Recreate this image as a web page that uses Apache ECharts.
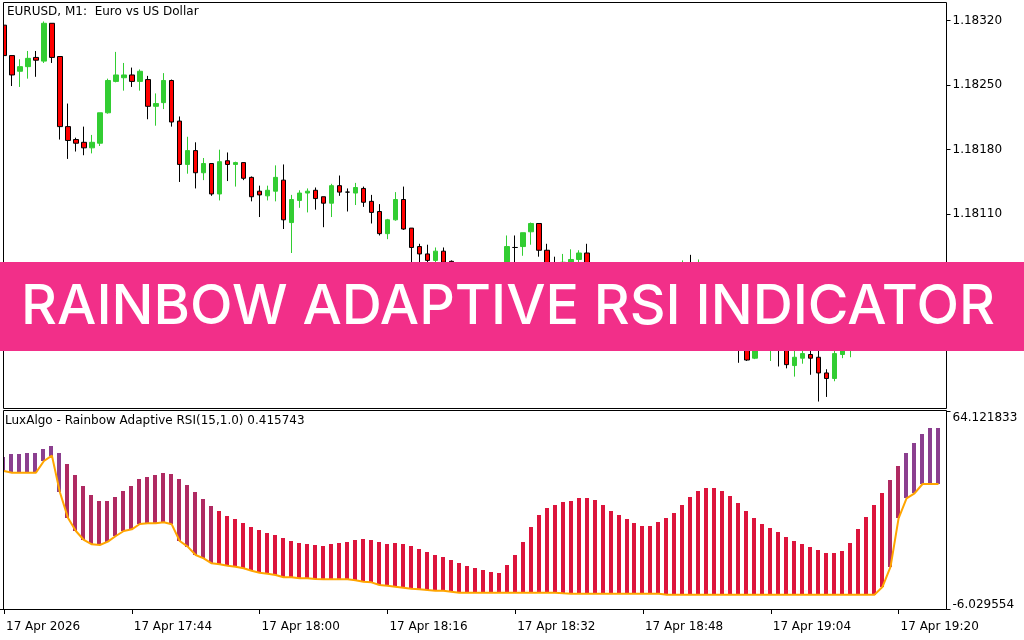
<!DOCTYPE html>
<html><head><meta charset="utf-8">
<script src="https://cdn.jsdelivr.net/npm/echarts@6/dist/echarts.min.js"></script>
<style>html,body{margin:0;padding:0;background:#fff}#c{width:1024px;height:640px}</style>
</head><body><div id="c"></div>
<script>
const symbolTitle = 'EURUSD, M1:  Euro vs US Dollar';
const indicatorTitle = 'LuxAlgo - Rainbow Adaptive RSI(15,1.0) 0.415743';
const bannerText = 'RAINBOW ADAPTIVE RSI INDICATOR';
const startHour = 17, startMinute = 28;
const timeTickLabels = ['17 Apr 2026','17 Apr 17:44','17 Apr 18:00','17 Apr 18:16','17 Apr 18:32','17 Apr 18:48','17 Apr 19:04','17 Apr 19:20'];
const priceTicks = [1.17970, 1.18040, 1.18110, 1.18180, 1.18250, 1.18320];
const rsiTicks = [-6.029554, 64.121833];

const openPrices = [
1.18315,1.18282,1.18265,1.18270,1.18280,1.18276,1.18317,1.18281,1.18205,1.18191,
1.18188,1.18182,1.18187,1.18220,1.18254,1.18258,1.18261,1.18254,1.18256,1.18227,
1.18231,1.18255,1.18211,1.18164,1.18179,1.18155,1.18165,1.18132,1.18168,1.18164,
1.18166,1.18150,1.18135,1.18130,1.18135,1.18147,1.18101,1.18125,1.18133,1.18136,
1.18129,1.18122,1.18141,1.18134,1.18133,1.18138,1.18124,1.18113,1.18089,1.18104,
1.18126,1.18095,1.18075,1.18067,1.18060,1.18070,1.18059,1.18027,1.18011,1.18022,
1.18000,1.17993,1.18006,1.18017,1.18074,1.18075,1.18091,1.18100,1.18071,1.18054,
1.18044,1.18049,1.18061,1.18068,1.18044,1.18027,1.18011,1.18019,1.18003,1.17993,
1.17984,1.17989,1.17978,1.17995,1.18011,1.18027,1.18047,1.18036,1.18051,1.18040,
1.18025,1.18011,1.17997,1.17978,1.17954,1.17973,1.17968,1.17978,1.17964,1.17946,
1.17954,1.17958,1.17955,1.17938,1.17932,1.17958,1.17973,1.17989,1.18006,1.18017,
1.18027,1.18036,1.18032,1.18043,1.18049,1.18051,1.18047,1.18051];
const highPrices = [
1.18316,1.18282,1.18278,1.18287,1.18287,1.18319,1.18317,1.18281,1.18230,1.18193,
1.18205,1.18196,1.18220,1.18257,1.18286,1.18274,1.18269,1.18267,1.18260,1.18241,
1.18263,1.18256,1.18216,1.18194,1.18188,1.18171,1.18165,1.18180,1.18177,1.18167,
1.18166,1.18151,1.18141,1.18141,1.18163,1.18164,1.18131,1.18136,1.18138,1.18139,
1.18129,1.18143,1.18152,1.18138,1.18144,1.18140,1.18131,1.18121,1.18105,1.18134,
1.18140,1.18095,1.18078,1.18077,1.18074,1.18074,1.18060,1.18038,1.18027,1.18029,
1.18011,1.18017,1.18017,1.18087,1.18087,1.18090,1.18101,1.18100,1.18078,1.18064,
1.18067,1.18072,1.18071,1.18078,1.18049,1.18033,1.18025,1.18023,1.18011,1.17997,
1.17997,1.17995,1.18000,1.18017,1.18033,1.18060,1.18066,1.18061,1.18055,1.18047,
1.18033,1.18019,1.18006,1.17984,1.17978,1.17989,1.17984,1.17984,1.17973,1.17968,
1.17968,1.17973,1.17968,1.17942,1.17962,1.17978,1.17995,1.18011,1.18022,1.18033,
1.18040,1.18040,1.18047,1.18053,1.18054,1.18054,1.18054,1.18054];
const lowPrices = [
1.18280,1.18249,1.18248,1.18257,1.18259,1.18274,1.18274,1.18191,1.18170,1.18178,
1.18174,1.18176,1.18184,1.18219,1.18253,1.18244,1.18248,1.18244,1.18213,1.18206,
1.18224,1.18205,1.18145,1.18154,1.18138,1.18147,1.18130,1.18125,1.18146,1.18140,
1.18147,1.18124,1.18107,1.18125,1.18124,1.18094,1.18068,1.18117,1.18112,1.18115,
1.18096,1.18107,1.18130,1.18113,1.18120,1.18118,1.18100,1.18087,1.18083,1.18103,
1.18093,1.18049,1.18054,1.18051,1.18049,1.18033,1.18017,1.18000,1.18003,1.17989,
1.17978,1.17984,1.17973,1.18006,1.18044,1.18065,1.18077,1.18064,1.18038,1.18033,
1.18033,1.18038,1.18054,1.18033,1.18017,1.18003,1.18006,1.17995,1.17984,1.17973,
1.17975,1.17968,1.17973,1.17989,1.18006,1.18022,1.18027,1.18029,1.18027,1.18017,
1.18003,1.17989,1.17949,1.17951,1.17953,1.17968,1.17951,1.17945,1.17943,1.17934,
1.17948,1.17936,1.17907,1.17912,1.17929,1.17954,1.17955,1.17984,1.18000,1.18011,
1.18022,1.18025,1.18027,1.18038,1.18043,1.18040,1.18043,1.18047];
const closePrices = [
1.18282,1.18261,1.18270,1.18279,1.18277,1.18317,1.18280,1.18205,1.18190,1.18187,
1.18182,1.18188,1.18220,1.18255,1.18261,1.18261,1.18254,1.18265,1.18227,1.18230,
1.18255,1.18210,1.18164,1.18179,1.18155,1.18165,1.18132,1.18167,1.18164,1.18166,
1.18149,1.18129,1.18131,1.18136,1.18150,1.18104,1.18126,1.18133,1.18135,1.18127,
1.18122,1.18141,1.18134,1.18134,1.18139,1.18123,1.18112,1.18089,1.18104,1.18126,
1.18094,1.18074,1.18067,1.18060,1.18070,1.18058,1.18027,1.18011,1.18022,1.18000,
1.17993,1.18006,1.17997,1.18075,1.18074,1.18090,1.18100,1.18071,1.18049,1.18044,
1.18058,1.18061,1.18068,1.18044,1.18027,1.18011,1.18019,1.18003,1.17993,1.17984,
1.17989,1.17978,1.17995,1.18011,1.18027,1.18047,1.18036,1.18051,1.18040,1.18025,
1.18011,1.17997,1.17978,1.17952,1.17973,1.17984,1.17978,1.17964,1.17947,1.17955,
1.17959,1.17954,1.17938,1.17932,1.17959,1.17973,1.17989,1.18006,1.18017,1.18027,
1.18036,1.18032,1.18043,1.18049,1.18051,1.18047,1.18051,1.18052];

const rsiTop = [
47.94,48.89,48.89,49.12,49.24,50.78,51.72,49.24,45.35,41.45,
37.67,34.36,32.24,32.24,33.77,35.78,37.67,40.03,40.86,41.45,
42.04,41.80,40.03,37.90,35.31,32.94,30.58,28.69,26.92,25.74,
24.56,23.14,21.96,21.02,20.19,19.25,18.06,17.47,16.88,16.65,
16.29,16.88,17.47,17.83,18.42,18.77,18.42,17.71,17.00,17.35,
17.00,16.29,15.23,14.17,13.10,12.39,11.33,10.27,9.21,8.50,
7.79,7.08,6.73,9.56,13.10,17.71,23.03,27.28,29.74,30.82,
31.88,32.24,33.30,33.30,32.59,30.82,28.69,27.28,25.86,24.44,
23.38,23.38,24.80,26.21,27.98,30.82,33.65,35.78,36.84,36.84,
35.78,34.00,31.53,28.69,26.21,24.08,22.67,21.25,19.48,18.06,
17.00,15.94,14.87,13.81,13.81,14.52,17.35,22.32,26.57,30.82,
35.07,39.67,44.64,49.24,52.78,55.97,58.10,58.10];
const rsiLine = [
42.87,42.27,42.27,42.27,42.27,46.41,48.30,35.31,26.33,21.61,
18.42,16.88,16.65,17.83,19.84,21.61,22.20,24.08,24.32,24.32,
24.68,23.97,18.06,16.05,13.10,11.92,10.15,9.80,9.32,8.97,
8.38,7.55,6.84,6.49,6.02,5.19,5.19,4.84,4.84,4.60,
4.48,4.48,4.48,4.48,4.13,3.66,3.42,2.47,2.24,1.88,
1.53,1.18,0.94,0.70,0.47,0.47,0.11,-0.24,-0.24,-0.24,
-0.24,-0.24,-0.24,-0.24,-0.24,-0.24,-0.24,-0.24,-0.24,-0.24,
-0.48,-0.60,-0.60,-0.60,-0.60,-0.60,-0.60,-0.60,-0.60,-0.60,
-0.60,-0.60,-0.60,-0.95,-0.95,-0.95,-0.95,-0.95,-0.95,-0.95,
-0.95,-0.95,-0.95,-0.95,-0.95,-0.95,-0.95,-0.95,-0.95,-0.95,
-0.95,-0.95,-0.95,-0.95,-0.95,-0.95,-0.95,-0.95,-0.95,-0.95,
1.88,8.97,26.09,33.18,34.95,38.26,38.26,38.26];

const categories = [];
for (let i = 0; i < openPrices.length; i++) {
  const m = startHour * 60 + startMinute + i;
  categories.push(String(Math.floor(m / 60)).padStart(2, '0') + ':' + String(m % 60).padStart(2, '0'));
}
const candleData = openPrices.map((o, i) => {
  const item = { value: [o, closePrices[i], lowPrices[i], highPrices[i]] };
  if (o === closePrices[i]) item.itemStyle = { color: '#000', color0: '#000', borderColor: '#000', borderColor0: '#000' };
  return item;
});
const rsiBarData = rsiTop.map((t, i) => [i, t, rsiLine[i]]);

function barColor(top, line) {
  const mid = (top + line) / 2;
  return mid > 38 ? '#8B3F8F' : (mid > 19.8 ? '#AF2A62' : '#DC143C');
}

const FONT = 'DejaVu Sans';
const chart = echarts.init(document.getElementById('c'), null, { renderer: 'canvas' });
chart.setOption({
  animation: false,
  backgroundColor: '#ffffff',
  textStyle: { fontFamily: FONT },
  title: [
    { text: symbolTitle, left: 7, top: 6, padding: 0, textStyle: { fontSize: 12, fontWeight: 'normal', color: '#000', fontFamily: FONT } },
    { text: indicatorTitle, left: 5, top: 415, padding: 0, textStyle: { fontSize: 12, fontWeight: 'normal', color: '#000', fontFamily: FONT } }
  ],
  grid: [
    { left: -1.5, top: 3, width: 944, height: 405 },
    { left: -1.5, top: 411, width: 944, height: 198 }
  ],
  xAxis: [
    { type: 'category', gridIndex: 0, data: categories, boundaryGap: true, show: false },
    { type: 'category', gridIndex: 1, data: categories, boundaryGap: true, position: 'bottom',
      axisLine: { show: true, onZero: false, lineStyle: { color: '#000', width: 1 } },
      axisTick: { show: true, interval: (i) => i % 16 === 0, alignWithLabel: true, length: 5, lineStyle: { color: '#000' } },
      axisLabel: { interval: (i) => i % 16 === 0, formatter: (v, i) => timeTickLabels[Math.round(i / 16)],
        align: 'left', padding: [0, 0, 0, 2], color: '#000', fontSize: 12, fontFamily: FONT, margin: 12 } }
  ],
  yAxis: [
    { type: 'value', gridIndex: 0, position: 'right', offset: 4, min: 1.17900, max: 1.18339,
      splitLine: { show: false }, axisLine: { show: false },
      axisTick: { show: true, customValues: priceTicks, length: 4, lineStyle: { color: '#000' } },
      axisLabel: { customValues: priceTicks, formatter: (v) => v.toFixed(5), margin: 6, color: '#000', fontSize: 12, fontFamily: FONT } },
    { type: 'value', gridIndex: 1, position: 'right', offset: 4, min: rsiTicks[0], max: rsiTicks[1],
      splitLine: { show: false }, axisLine: { show: false },
      axisTick: { show: true, customValues: rsiTicks, length: 4, lineStyle: { color: '#000' } },
      axisLabel: { customValues: rsiTicks, margin: 6, color: '#000', fontSize: 12, fontFamily: FONT,
        formatter: (v) => (v > 30 ? '{t|' : '{b|') + v.toFixed(6) + '}',
        rich: { t: { padding: [14, 0, 0, 0], fontSize: 12, fontFamily: FONT, color: '#000' },
                b: { padding: [0, 0, 8, 0], fontSize: 12, fontFamily: FONT, color: '#000' } } } }
  ],
  series: [
    { type: 'candlestick', xAxisIndex: 0, yAxisIndex: 0, data: candleData, barWidth: 5,
      itemStyle: { color: '#32CD32', color0: '#FF0000', borderColor: '#32CD32', borderColor0: '#000000', borderWidth: 1 } },
    { type: 'custom', xAxisIndex: 1, yAxisIndex: 1, data: rsiBarData, encode: { x: 0, y: [1, 2] }, clip: true,
      renderItem: function (params, api) {
        const top = api.value(1), bot = api.value(2);
        const p1 = api.coord([api.value(0), top]);
        const p2 = api.coord([api.value(0), bot]);
        const x = Math.floor(p1[0] - 2);
        return { type: 'rect', shape: { x: x, y: Math.round(p1[1]), width: 4, height: Math.round(p2[1]) - Math.round(p1[1]) },
                 style: { fill: barColor(top, bot) } };
      } },
    { type: 'line', xAxisIndex: 1, yAxisIndex: 1, data: rsiLine, symbol: 'none', z: 5,
      lineStyle: { color: '#FFA500', width: 2 } }
  ],
  graphic: [
    { type: 'rect', z: 50, shape: { x: 0, y: 0, width: 3, height: 609 }, style: { fill: '#fff' } },
    { type: 'rect', z: 60, shape: { x: 3.5, y: 2.5, width: 943, height: 406 }, style: { fill: null, stroke: '#000', lineWidth: 1 } },
    { type: 'rect', z: 60, shape: { x: 3.5, y: 410.5, width: 943, height: 199 }, style: { fill: null, stroke: '#000', lineWidth: 1 } },
    { type: 'rect', z: 100, shape: { x: 0, y: 262, width: 1024, height: 89 }, style: { fill: '#F22F89' } },
    { type: 'text', z: 101, x: 508, y: 307, style: { text: bannerText, fill: '#fff', font: '500 55.5px Inter', textAlign: 'center', textVerticalAlign: 'middle' } }
  ]
});
</script></body></html>
